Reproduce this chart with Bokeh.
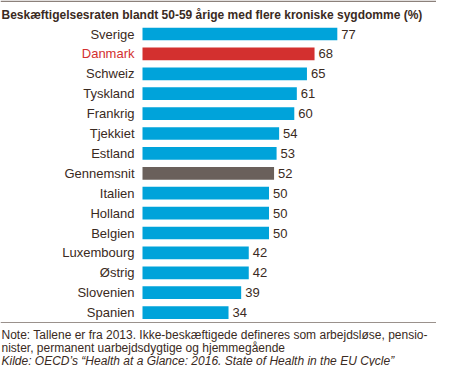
from bokeh.plotting import figure
from bokeh.models import Range1d, Span, Label
from bokeh.embed import file_html
from bokeh.resources import INLINE

# ---- data ----
countries = ["Sverige", "Danmark", "Schweiz", "Tyskland", "Frankrig", "Tjekkiet", "Estland",
             "Gennemsnit", "Italien", "Holland", "Belgien", "Luxembourg", "Østrig", "Slovenien", "Spanien"]
values = [77, 68, 65, 61, 60, 54, 53, 52, 50, 50, 50, 42, 42, 39, 34]
title = "Beskæftigelsesraten blandt 50-59 årige med flere kroniske sygdomme (%)"
note1 = "Note: Tallene er fra 2013. Ikke-beskæftigede defineres som arbejdsløse, pensio-"
note2 = "nister, permanent uarbejdsdygtige og hjemmegående"
source = "Kilde: OECD’s “Health at a Glance: 2016. State of Health in the EU Cycle”"

BLUE = "#00a3da"
RED = "#d3302f"
GRAY = "#6a605b"
TEXT = "#3a2a22"

colors = [RED if c == "Danmark" else GRAY if c == "Gennemsnit" else BLUE for c in countries]
label_colors = [RED if c == "Danmark" else TEXT for c in countries]
ypos = list(range(len(countries)))

W, H = 436, 366
X0 = 142.0          # pixel where bars start
PPU = 2.53          # pixels per unit
Y0 = 33.5           # pixel center of first row
STEP = 19.9         # pixels per row

def dx(px):
    return (px - X0) / PPU

def dy(py):
    return (py - Y0) / STEP

p = figure(width=W, height=H, output_backend="svg", toolbar_location=None,
           x_range=Range1d(dx(0), dx(W)), y_range=Range1d(dy(H), dy(0)),
           min_border=0, outline_line_color=None)
p.axis.visible = False
p.grid.visible = False
p.background_fill_color = "white"
p.border_fill_color = "white"

p.hbar(y=ypos, right=values, left=0, height=0.64, fill_color=colors,
       line_color=None)

p.text(x=[0] * len(countries), y=ypos, text=countries, text_align="right",
       text_baseline="middle", x_offset=-8, text_font_size="13px",
       text_font={"value": "Liberation Sans"}, text_color=label_colors)
p.text(x=values, y=ypos, text=[str(v) for v in values], text_align="left",
       text_baseline="middle", x_offset=4, text_font_size="13px",
       text_font={"value": "Liberation Sans"}, text_color=TEXT)

# rules
p.add_layout(Span(location=dy(0.8), dimension="width", line_color="#8c817b", line_width=1.6))
p.add_layout(Span(location=dy(322), dimension="width", line_color="#9a918c", line_width=1))

# title and notes
p.add_layout(Label(x=dx(1), y=dy(14), text=title, text_font="Liberation Sans",
                   text_font_style="bold", text_font_size="12px", text_color=TEXT,
                   text_baseline="middle", text_align="left"))
for i, (t, style) in enumerate([(note1, "normal"), (note2, "normal"), (source, "italic")]):
    p.add_layout(Label(x=dx(1), y=dy(334 + 13 * i), text=t, text_font="Liberation Sans",
                       text_font_style=style, text_font_size="12px", text_color=TEXT,
                       text_baseline="middle", text_align="left"))

open("out.html", "w").write(file_html(p, INLINE))
